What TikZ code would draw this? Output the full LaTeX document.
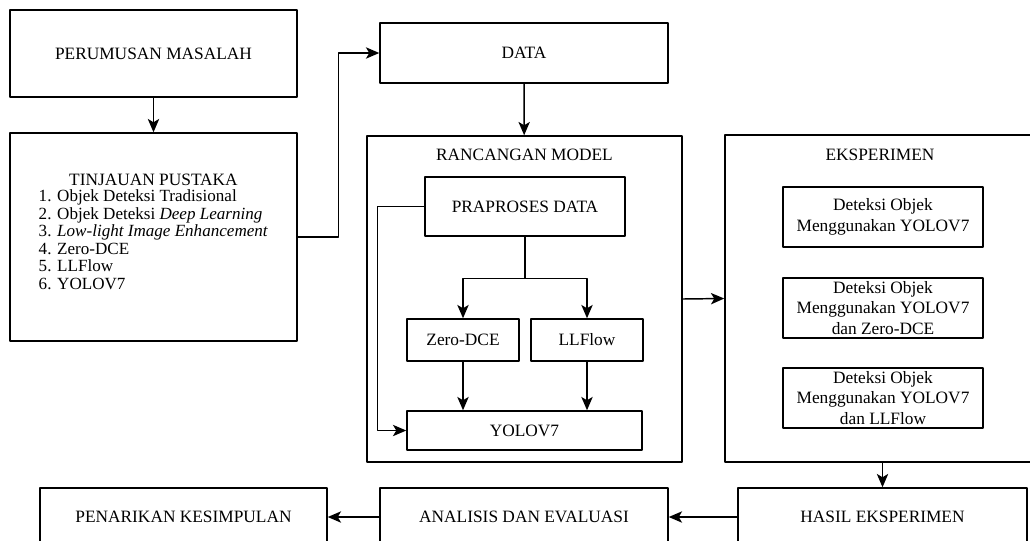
\documentclass[tikz,border=0pt]{standalone}
\usepackage{fontspec}
\setmainfont{Liberation Serif}
\usetikzlibrary{arrows.meta,positioning}
\tikzset{flow/.style={
  x=0.75pt,y=-0.75pt,
  >={Stealth[length=10pt,width=8.5pt,inset=2.5pt]},line join=round,line width=1.1pt,
  font=\fontsize{13}{15.6}\selectfont
},
box/.style={draw,rectangle,inner sep=0pt,align=center},
wh/.style 2 args={minimum width=#1*0.75pt,minimum height=#2*0.75pt},
label/.style={inner sep=0pt,align=center}}

\begin{document}
\begin{tikzpicture}[flow]
  \clip (0,0) rectangle (1030,540);

  \node[box,wh={287}{87}] (perumusan) at (153.5,53.5) {PERUMUSAN MASALAH};
  \node[box,wh={287}{208}] (tinjauan) at (153.5,237) {};
  \node[label] (tinjauanTitle) at (153.5,180) {TINJAUAN PUSTAKA};
  \node[label,anchor=north west,align=left,font=\fontsize{12.8}{13.2}\selectfont] (tinjauanList) at (38,189)
    {1. Objek Deteksi Tradisional\\
     2. Objek Deteksi \textit{Deep Learning}\\
     3. \textit{Low-light Image Enhancement}\\
     4. Zero-DCE\\
     5. LLFlow\\
     6. YOLOV7};

  \node[box,wh={288}{60}] (data) at (524,53) {DATA};

  \node[box,wh={315}{326}] (rancangan) at (524.5,299) {};
  \node[label] (rancanganTitle) at (524.5,155) {RANCANGAN MODEL};
  \node[box,wh={200}{59}] (praproses) at (525,206.5) {PRAPROSES DATA};
  \node[box,wh={112}{42}] (zerodce) at (463,340) {Zero-DCE};
  \node[box,wh={112}{42}] (llflow) at (587,340) {LLFlow};
  \node[box,wh={235}{39}] (yolo) at (524.5,430.5) {YOLOV7};

  \node[box,wh={315}{327}] (eksperimen) at (882.5,298.5) {};
  \node[label] (eksperimenTitle) at (880,155) {EKSPERIMEN};
  \node[box,wh={200}{60}] (expA) at (883,217) {Deteksi Objek\\Menggunakan YOLOV7};
  \node[box,wh={200}{60}] (expB) at (883,308) {Deteksi Objek\\Menggunakan YOLOV7\\dan Zero-DCE};
  \node[box,wh={200}{60}] (expC) at (883,398) {Deteksi Objek\\Menggunakan YOLOV7\\dan LLFlow};

  \node[box,wh={289}{58}] (hasil) at (882.5,517) {HASIL EKSPERIMEN};
  \node[box,wh={288}{58}] (analisis) at (524,517) {ANALISIS DAN EVALUASI};
  \node[box,wh={287}{58}] (penarikan) at (183.5,517) {PENARIKAN KESIMPULAN};

  \draw[->] (perumusan) -- (tinjauan);
  \draw[->] (tinjauan.east) -- ++(41,0) |- (data.west);
  \draw[->] (data) -- (rancangan);
  \draw (praproses.south) -- ++(0,42) coordinate (split);
  \draw[->] (split) -| (zerodce.north);
  \draw[->] (split) -| (llflow.north);
  \draw[->] (zerodce.south) -- (zerodce.south |- yolo.north);
  \draw[->] (llflow.south) -- (llflow.south |- yolo.north);
  \draw[->] (praproses.west) -- ++(-47,0) |- (yolo.west);
  \draw[->] (rancangan.east) -- (eksperimen.west);
  \draw[->] (eksperimen.south) -- (hasil.north);
  \draw[->] (hasil) -- (analisis);
  \draw[->] (analisis) -- (penarikan);
\end{tikzpicture}
\end{document}
